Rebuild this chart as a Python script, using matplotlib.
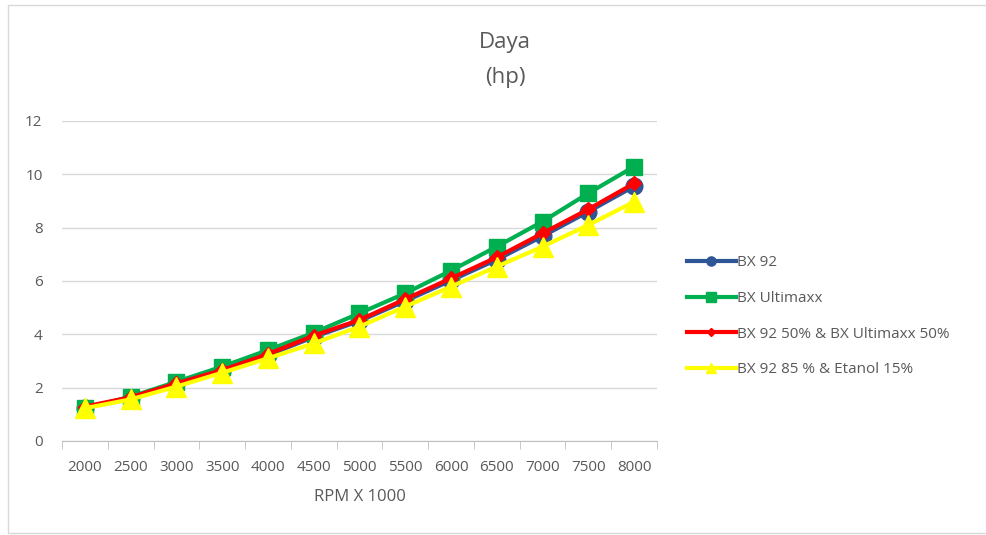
import numpy as np
import matplotlib.pyplot as plt
from matplotlib.patches import Rectangle

plt.rcParams['font.family'] = ['Open Sans', 'DejaVu Sans']

# data
rpm = ['2000', '2500', '3000', '3500', '4000', '4500', '5000',
       '5500', '6000', '6500', '7000', '7500', '8000']
bx92 = [1.25, 1.62, 2.13, 2.63, 3.22, 3.90, 4.50, 5.25, 6.02, 6.80, 7.68, 8.60, 9.55]
bx_ultimaxx = [1.23, 1.66, 2.22, 2.79, 3.41, 4.06, 4.79, 5.54, 6.39, 7.29, 8.23, 9.29, 10.29]
bx92_mix50 = [1.29, 1.64, 2.16, 2.66, 3.26, 3.95, 4.54, 5.32, 6.10, 6.89, 7.79, 8.69, 9.66]
bx92_etanol = [1.23, 1.56, 2.04, 2.56, 3.10, 3.66, 4.29, 5.04, 5.79, 6.54, 7.29, 8.10, 8.97]

labels = ['BX 92', 'BX Ultimaxx', 'BX 92 50% & BX Ultimaxx 50%', 'BX 92 85 % & Etanol 15%']

fig = plt.figure(figsize=(9.87, 5.35), dpi=100)
fig.patches.append(Rectangle((0.008, 0.004), 0.995, 0.987, transform=fig.transFigure,
                             fill=False, edgecolor='#d9d9d9', linewidth=1))
ax = fig.add_axes([62 / 987, 1 - 441 / 535, 595 / 987, 320 / 535])

x = np.arange(len(rpm))
ax.plot(x, bx92, color='#2F5597', lw=3, marker='o', ms=12, label=labels[0])
ax.plot(x, bx_ultimaxx, color='#00B050', lw=3, marker='s', ms=12, label=labels[1])
ax.plot(x, bx92_mix50, color='#FF0000', lw=3, marker='D', ms=7, label=labels[2])
ax.plot(x, bx92_etanol, color='#FFFF00', lw=3, marker='^', ms=14, label=labels[3])

ax.set_xlim(-0.5, len(rpm) - 0.5)
ax.set_ylim(0, 12)
ax.set_yticks(np.arange(0, 13, 2))
ax.grid(axis='y', color='#d9d9d9', lw=1)
ax.set_axisbelow(True)

ax.set_xticks(x)
ax.set_xticklabels(rpm)
ax.set_xticks(np.arange(-0.5, len(rpm), 1), minor=True)
ax.tick_params(axis='x', which='major', length=0, pad=14, labelsize=11, labelcolor='#595959')
ax.tick_params(axis='x', which='minor', length=6, color='#bfbfbf')
ax.tick_params(axis='y', length=0, pad=14, labelsize=11, labelcolor='#595959')

for s in ['top', 'right', 'left']:
    ax.spines[s].set_visible(False)
ax.spines['bottom'].set_color('#bfbfbf')

ax.set_xlabel('RPM X 1000', fontsize=12, color='#595959', labelpad=10)
fig.text(0.512, 0.888, 'Daya\n(hp)', ha='center', va='center', fontsize=16,
         color='#595959', linespacing=1.9)

ax.legend(loc='center left', bbox_to_anchor=(1.04, 0.39), frameon=False,
          fontsize=11, labelcolor='#595959', handlelength=3.2, handletextpad=0.1,
          labelspacing=1.35, markerscale=0.55, borderaxespad=0)

fig.savefig('out.png', dpi=100)
